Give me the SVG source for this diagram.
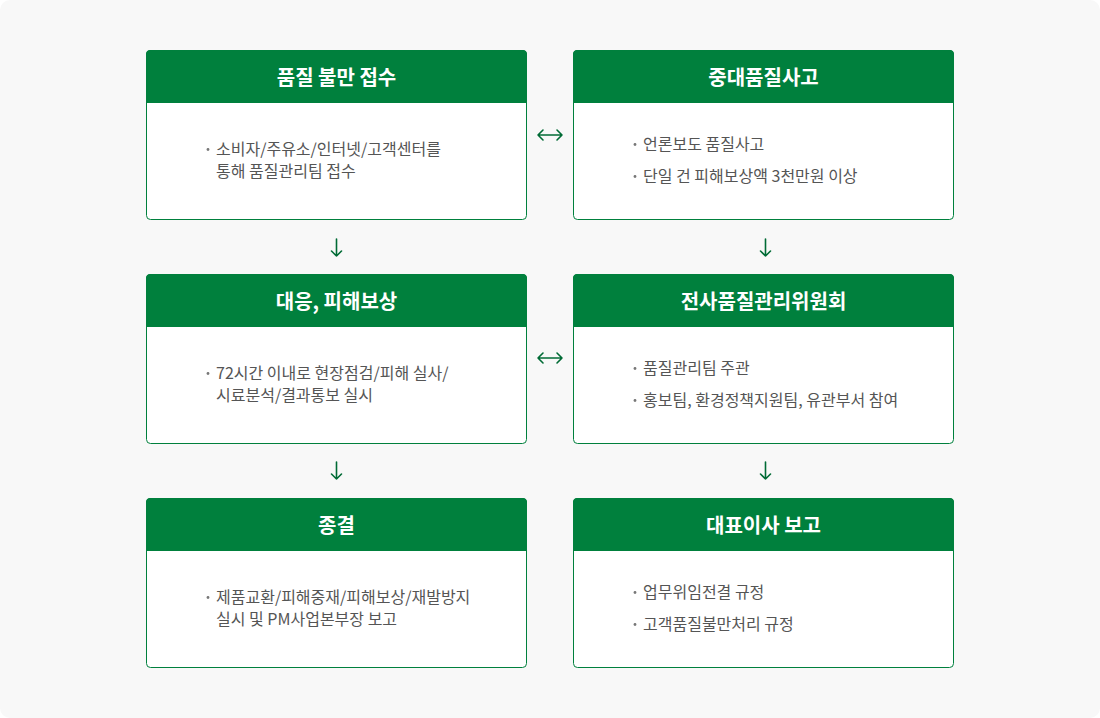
<svg xmlns="http://www.w3.org/2000/svg" width="1100" height="718" viewBox="0 0 1100 718">
<defs>
<style>
.box{fill:#ffffff;stroke:#00803d;stroke-width:1}
.hd{fill:#00803d}
.ttl{font-family:"Noto Sans CJK KR","Noto Sans",sans-serif;font-size:20px;font-weight:700;fill:#ffffff;text-anchor:middle}
.bd{font-family:"Noto Sans CJK KR","Noto Sans",sans-serif;font-size:16px;fill:#555555}
.dot{fill:#777777}
.arr{fill:none;stroke:#006b35;stroke-width:1.6;stroke-linecap:round;stroke-linejoin:round}
</style>
</defs>
<rect x="0" y="0" width="1100" height="718" rx="10" fill="#f8f8f8"/>

<g id="node1">
<rect class="box" x="146.5" y="50.5" width="380" height="169" rx="4"/>
<path class="hd" d="M146 103 V54.5 A4 4 0 0 1 150 50 H523 A4 4 0 0 1 527 54.5 V103 Z"/>
<text class="ttl" x="336.5" y="85">품질 불만 접수</text>
<circle class="dot" cx="208" cy="149.5" r="1.4"/>
<text class="bd" x="216" y="155">소비자/주유소/인터넷/고객센터를</text>
<text class="bd" x="216" y="177">통해 품질관리팀 접수</text>
</g>

<g id="node2">
<rect class="box" x="573.5" y="50.5" width="380" height="169" rx="4"/>
<path class="hd" d="M573 103 V54.5 A4 4 0 0 1 577 50 H950 A4 4 0 0 1 954 54.5 V103 Z"/>
<text class="ttl" x="763.5" y="85">중대품질사고</text>
<circle class="dot" cx="635" cy="144.5" r="1.4"/>
<text class="bd" x="643" y="150">언론보도 품질사고</text>
<circle class="dot" cx="635" cy="176.5" r="1.4"/>
<text class="bd" x="643" y="182">단일 건 피해보상액 3천만원 이상</text>
</g>

<g id="node3">
<rect class="box" x="146.5" y="274.5" width="380" height="169" rx="4"/>
<path class="hd" d="M146 327 V278.5 A4 4 0 0 1 150 274 H523 A4 4 0 0 1 527 278.5 V327 Z"/>
<text class="ttl" x="336.5" y="309">대응, 피해보상</text>
<circle class="dot" cx="208" cy="373.5" r="1.4"/>
<text class="bd" x="216" y="379">72시간 이내로 현장점검/피해 실사/</text>
<text class="bd" x="216" y="401">시료분석/결과통보 실시</text>
</g>

<g id="node4">
<rect class="box" x="573.5" y="274.5" width="380" height="169" rx="4"/>
<path class="hd" d="M573 327 V278.5 A4 4 0 0 1 577 274 H950 A4 4 0 0 1 954 278.5 V327 Z"/>
<text class="ttl" x="763.5" y="309">전사품질관리위원회</text>
<circle class="dot" cx="635" cy="368.5" r="1.4"/>
<text class="bd" x="643" y="374">품질관리팀 주관</text>
<circle class="dot" cx="635" cy="400.5" r="1.4"/>
<text class="bd" x="643" y="406">홍보팀, 환경정책지원팀, 유관부서 참여</text>
</g>

<g id="node5">
<rect class="box" x="146.5" y="498.5" width="380" height="169" rx="4"/>
<path class="hd" d="M146 551 V502.5 A4 4 0 0 1 150 498 H523 A4 4 0 0 1 527 502.5 V551 Z"/>
<text class="ttl" x="336.5" y="533">종결</text>
<circle class="dot" cx="208" cy="597.5" r="1.4"/>
<text class="bd" x="216" y="603">제품교환/피해중재/피해보상/재발방지</text>
<text class="bd" x="216" y="625">실시 및 PM사업본부장 보고</text>
</g>

<g id="node6">
<rect class="box" x="573.5" y="498.5" width="380" height="169" rx="4"/>
<path class="hd" d="M573 551 V502.5 A4 4 0 0 1 577 498 H950 A4 4 0 0 1 954 502.5 V551 Z"/>
<text class="ttl" x="763.5" y="533">대표이사 보고</text>
<circle class="dot" cx="635" cy="592.5" r="1.4"/>
<text class="bd" x="643" y="598">업무위임전결 규정</text>
<circle class="dot" cx="635" cy="624.5" r="1.4"/>
<text class="bd" x="643" y="630">고객품질불만처리 규정</text>
</g>

<g id="connectors">
<path class="arr" d="M538 135 H562 M543 130 L538 135 L543 140 M557 130 L562 135 L557 140"/>
<path class="arr" d="M538 358 H562 M543 353 L538 358 L543 363 M557 353 L562 358 L557 363"/>
<path class="arr" d="M336.5 239 V256 M331.5 251 L336.5 256 L341.5 251"/>
<path class="arr" d="M336.5 462 V479 M331.5 474 L336.5 479 L341.5 474"/>
<path class="arr" d="M765.5 239 V256 M760.5 251 L765.5 256 L770.5 251"/>
<path class="arr" d="M765.5 462 V479 M760.5 474 L765.5 479 L770.5 474"/>
</g>
</svg>
